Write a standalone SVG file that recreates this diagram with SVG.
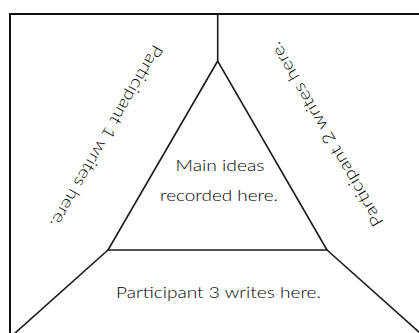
<svg xmlns="http://www.w3.org/2000/svg" width="419" height="333" viewBox="0 0 419 333">
  <style>
    .frame { fill: none; stroke: #111; stroke-width: 2; }
    .edge { fill: none; stroke: #1a1a1a; stroke-width: 1.6; stroke-linecap: round; stroke-linejoin: miter; }
    .label { font-family: "Lato", "Open Sans", "Liberation Sans", sans-serif; font-weight: 300; font-size: 16.5px; fill: #000; text-anchor: middle; }
  </style>
  <rect width="419" height="333" fill="#fff"/>

  <!-- outer frame, open on the right and bottom -->
  <g id="frame">
    <path class="frame" d="M10 340 V14 H425"/>
  </g>

  <!-- dividing lines and central triangle -->
  <g id="connectors">
    <line class="edge" x1="217.7" y1="14" x2="217.7" y2="61"/>
    <polygon class="edge" points="217.7,61 108,250 327,250"/>
    <line class="edge" x1="108" y1="250" x2="14" y2="334"/>
    <line class="edge" x1="327" y1="250" x2="420" y2="333"/>
  </g>

  <g id="participant1">
    <text class="label" transform="translate(101.7 133.5) rotate(120)" textLength="208" lengthAdjust="spacingAndGlyphs">Participant 1 writes here.</text>
  </g>

  <g id="participant2">
    <text class="label" transform="translate(331.3 131.5) rotate(240)" textLength="210" lengthAdjust="spacingAndGlyphs">Participant 2 writes here.</text>
  </g>

  <g id="main-ideas">
    <text class="label" x="220" y="171" textLength="89" lengthAdjust="spacingAndGlyphs">Main ideas</text>
    <text class="label" x="219" y="201" textLength="118" lengthAdjust="spacingAndGlyphs">recorded here.</text>
  </g>

  <g id="participant3">
    <text class="label" x="218.5" y="298.3" textLength="205" lengthAdjust="spacingAndGlyphs">Participant 3 writes here.</text>
  </g>
</svg>
